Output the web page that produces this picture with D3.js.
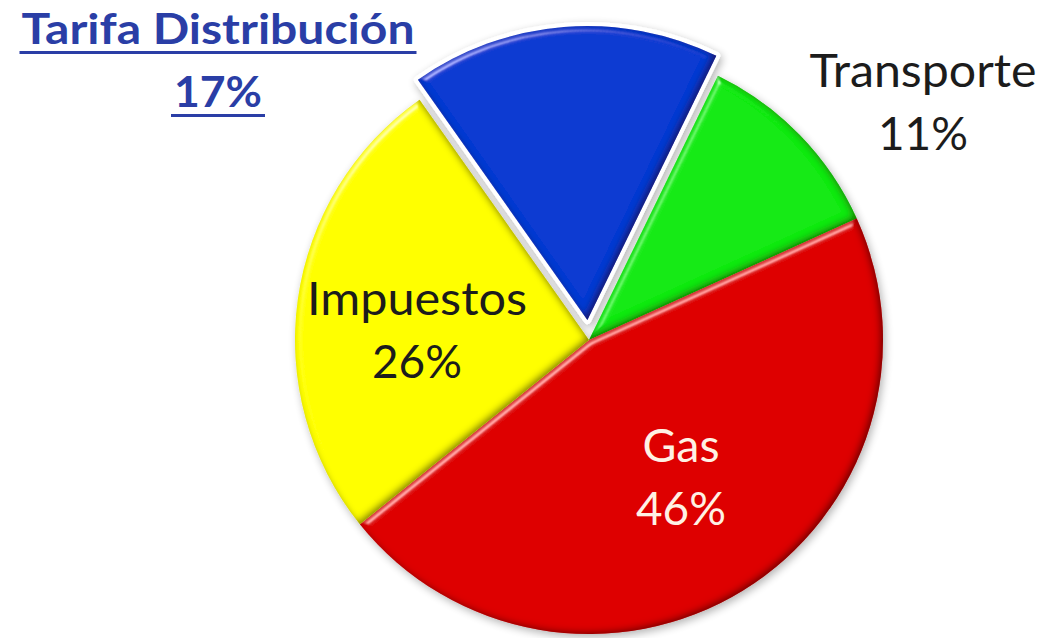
<!DOCTYPE html>
<html>
<head>
<meta charset="utf-8">
<script src="https://cdn.jsdelivr.net/npm/d3@7"></script>
<style>
  html, body { margin: 0; padding: 0; background: #ffffff; }
  svg { display: block; }
  text { font-family: Lato, "Open Sans", sans-serif; }
</style>
</head>
<body>
<svg id="chart" width="1055" height="638"></svg>
<script>
// ---- data ----
const categories = ["Transporte", "Gas", "Impuestos", "Tarifa Distribución"];
const values = [11, 46, 26, 17];
const percentLabels = ["11%", "46%", "26%", "17%"];

// ---- styles ----
const colors = ["#14ea14", "#de0000", "#ffff00", "#0c3bd2"];
const textColors = ["#1c1c1c", "#fff1e4", "#1c1c1c", "#2a3ea6"];
const exploded = [0, 0, 0, 20];

const W = 1055, H = 638;
const cx = 589, cy = 340, R = 294;
const startDeg = 26;

const svg = d3.select("#chart");
const defs = svg.append("defs");

// bevel / inner shadow filter
const f = defs.append("filter").attr("id", "bevel")
  .attr("x", "-10%").attr("y", "-10%").attr("width", "120%").attr("height", "120%");
f.append("feComponentTransfer").attr("in", "SourceAlpha").attr("result", "inv")
  .append("feFuncA").attr("type", "table").attr("tableValues", "1 0");
f.append("feGaussianBlur").attr("in", "inv").attr("stdDeviation", 3.5).attr("result", "invBlur");
f.append("feOffset").attr("in", "invBlur").attr("dx", -3).attr("dy", -2).attr("result", "invOff");
f.append("feFlood").attr("flood-color", "#1a0000").attr("flood-opacity", 0.8).attr("result", "blk");
f.append("feComposite").attr("in", "blk").attr("in2", "invOff").attr("operator", "in").attr("result", "sh1");
f.append("feComposite").attr("in", "sh1").attr("in2", "SourceAlpha").attr("operator", "in").attr("result", "innerShadow");
// edge highlight
f.append("feGaussianBlur").attr("in", "SourceAlpha").attr("stdDeviation", 3).attr("result", "ablur");
const spec = f.append("feSpecularLighting").attr("in", "ablur").attr("surfaceScale", 5)
  .attr("specularConstant", 0.9).attr("specularExponent", 35)
  .attr("lighting-color", "#ffffff").attr("result", "spec");
spec.append("feDistantLight").attr("azimuth", 235).attr("elevation", 28);
f.append("feComposite").attr("in", "spec").attr("in2", "SourceAlpha").attr("operator", "in").attr("result", "specIn");
const m = f.append("feMerge").attr("result", "base");
m.append("feMergeNode").attr("in", "SourceGraphic");
m.append("feMergeNode").attr("in", "innerShadow");
f.append("feComposite").attr("in", "base").attr("in2", "specIn").attr("operator", "arithmetic")
  .attr("k1", 0).attr("k2", 1).attr("k3", 0.4).attr("k4", 0);

// drop shadow filter
const ds = defs.append("filter").attr("id", "drop")
  .attr("x", "-10%").attr("y", "-10%").attr("width", "120%").attr("height", "120%");
ds.append("feGaussianBlur").attr("in", "SourceAlpha").attr("stdDeviation", 4).attr("result", "b");
ds.append("feOffset").attr("in", "b").attr("dx", 2).attr("dy", 3).attr("result", "o");
ds.append("feComponentTransfer").attr("in", "o").attr("result", "o2")
  .append("feFuncA").attr("type", "linear").attr("slope", 0.3);
const dm = ds.append("feMerge");
dm.append("feMergeNode").attr("in", "o2");
dm.append("feMergeNode").attr("in", "SourceGraphic");

const pie = d3.pie().sort(null).value(d => d)
  .startAngle(startDeg * Math.PI / 180)
  .endAngle(startDeg * Math.PI / 180 + 2 * Math.PI);
const arcs = pie(values);
const arc = d3.arc().innerRadius(0).outerRadius(R);

const g = svg.append("g").attr("transform", `translate(${cx},${cy})`);
const shadowG = g.append("g").attr("filter", "url(#drop)");

function offset(d, i) {
  const a = (d.startAngle + d.endAngle) / 2;
  const o = exploded[i];
  return [o * Math.sin(a), -o * Math.cos(a)];
}

arcs.forEach((d, i) => {
  const [ox, oy] = offset(d, i);
  const sg = shadowG.append("g").attr("transform", `translate(${ox},${oy})`);
  if (exploded[i] > 0) {
    sg.append("path").attr("d", arc(d)).attr("fill", "#ffffff")
      .attr("stroke", "#ffffff").attr("stroke-width", 8).attr("stroke-linejoin", "round");
  }
  sg.append("path").attr("d", arc(d)).attr("fill", colors[i]).attr("filter", "url(#bevel)");
});

// ---- labels ----
// label layout: [x of text centre, baseline of first line] in page pixels
const labelLayout = [[923, 87], [681, 462], [417, 315], [218, 44]];
const lineGap = 63;
const nameWidths = [227, 77, 220, 393];
const pctWidths = [90, 90, 90, 88];

const lbl = svg.append("g");
arcs.forEach((d, i) => {
  const [x, y] = labelLayout[i];
  const bold = i === 3;
  const size = bold ? 42 : 46;
  const lg = lbl.append("g").attr("transform", `translate(${x},${y})`);
  lg.append("text").attr("text-anchor", "middle").attr("x", 0).attr("y", 0)
    .attr("font-size", size).attr("font-weight", bold ? 700 : 400)
    .attr("fill", textColors[i])
    .attr("textLength", nameWidths[i]).attr("lengthAdjust", "spacingAndGlyphs")
    .text(categories[i]);
  lg.append("text").attr("text-anchor", "middle").attr("x", 0).attr("y", lineGap)
    .attr("font-size", size).attr("font-weight", bold ? 700 : 400)
    .attr("fill", textColors[i])
    .attr("textLength", pctWidths[i]).attr("lengthAdjust", "spacingAndGlyphs")
    .text(percentLabels[i]);
  if (bold) {
    lg.append("rect").attr("x", -nameWidths[i] / 2 - 2).attr("y", 7)
      .attr("width", nameWidths[i] + 4).attr("height", 3).attr("fill", textColors[i]);
    lg.append("rect").attr("x", -pctWidths[i] / 2 - 3).attr("y", lineGap + 7)
      .attr("width", pctWidths[i] + 6).attr("height", 3).attr("fill", textColors[i]);
  }
});
</script>
</body>
</html>
